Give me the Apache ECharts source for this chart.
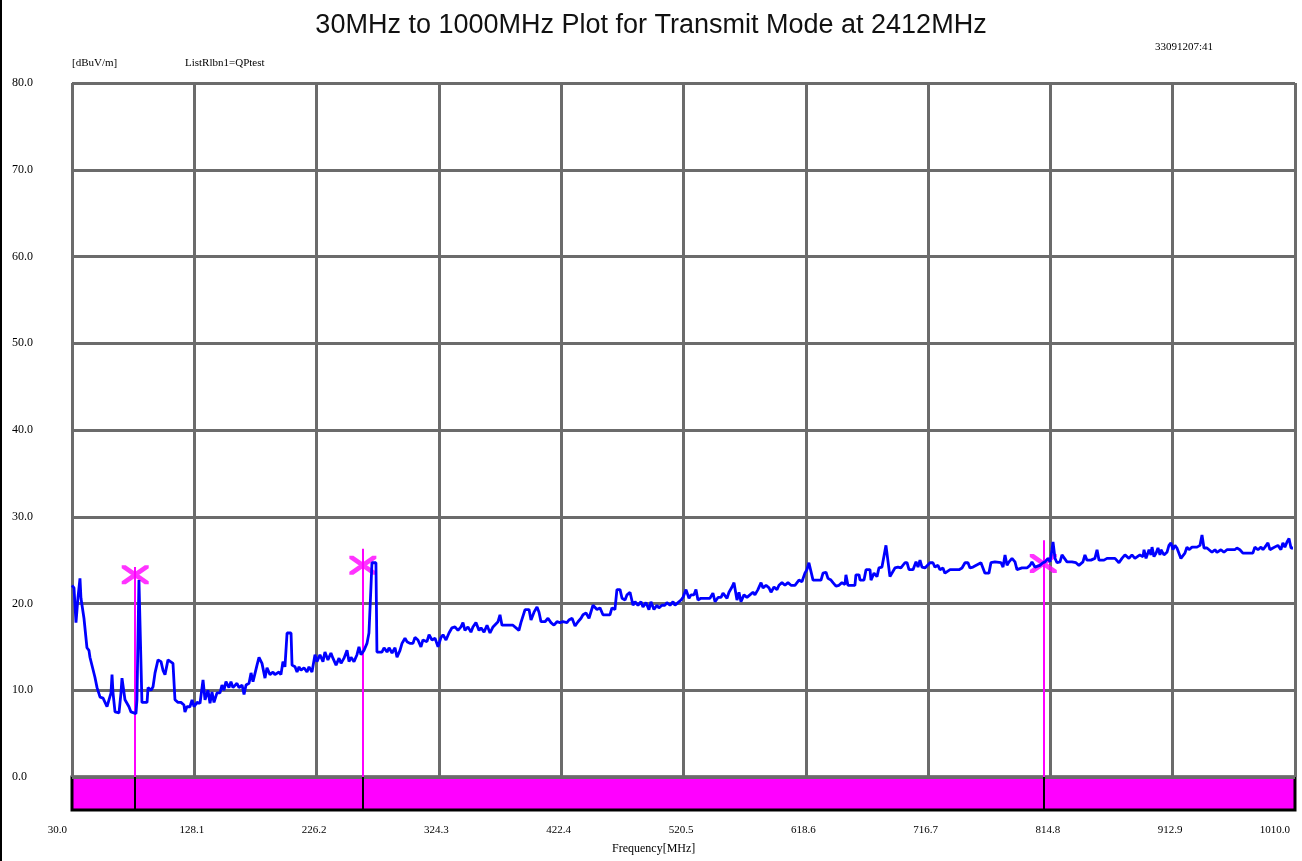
<!DOCTYPE html>
<html>
<head>
<meta charset="utf-8">
<title>30MHz to 1000MHz Plot for Transmit Mode at 2412MHz</title>
<script src="https://cdn.jsdelivr.net/npm/echarts@6/dist/echarts.min.js"></script>
<style>
  html, body { margin: 0; padding: 0; background: #ffffff; }
  #chart { width: 1302px; height: 861px; }
</style>
</head>
<body>
<div id="chart"></div>
<script>
// Scan trace: frequency (MHz) and level (dBuV/m)
const freqMHz = [
  30.0, 31.6, 33.2, 34.8, 36.4, 37.2, 38.8, 39.6, 40.4, 42.0, 43.6, 44.4, 45.2, 48.4, 50.1, 51.7,
  52.5, 53.3, 54.9, 56.5, 58.1, 59.7, 61.3, 62.1, 62.9, 64.5, 66.1, 67.7, 69.3, 70.1, 70.9, 72.5,
  74.1, 75.7, 77.3, 78.9, 81.3, 82.1, 83.7, 85.3, 86.1, 90.2, 91.0, 93.4, 95.0, 96.6, 99.0, 101.4,
  103.0, 104.6, 107.0, 108.6, 111.0, 112.6, 115.0, 117.4, 119.8, 120.6, 122.2, 124.6, 126.3, 127.9, 130.3, 132.7,
  135.1, 136.7, 139.1, 140.7, 142.3, 143.9, 146.3, 148.7, 150.3, 151.9, 153.5, 155.9, 157.5, 159.1, 162.3, 164.0,
  166.4, 168.0, 169.6, 172.0, 173.6, 175.2, 176.8, 178.4, 180.0, 182.4, 184.8, 186.4, 188.8, 191.2, 192.8, 196.0,
  197.6, 199.2, 200.8, 202.5, 205.7, 206.5, 208.9, 210.5, 212.1, 213.7, 216.1, 218.5, 220.1, 222.5, 224.9, 226.5,
  228.9, 231.3, 232.9, 235.3, 237.7, 239.3, 241.8, 244.2, 245.8, 248.2, 250.6, 252.2, 253.8, 256.2, 258.6, 260.2,
  261.8, 264.2, 266.6, 268.2, 269.8, 270.6, 273.8, 274.6, 278.6, 280.3, 282.7, 284.3, 286.7, 289.1, 290.7, 293.1,
  294.7, 297.1, 298.7, 301.1, 303.5, 305.1, 307.5, 309.9, 311.5, 314.7, 316.4, 318.8, 321.2, 323.6, 326.0, 327.6,
  330.0, 332.4, 334.8, 337.2, 339.6, 342.0, 343.6, 345.2, 347.6, 350.0, 351.6, 354.0, 356.5, 358.1, 360.5, 362.9,
  365.3, 367.7, 369.3, 371.7, 373.3, 374.9, 378.9, 383.7, 388.5, 390.1, 393.4, 396.6, 398.2, 400.6, 403.0, 404.6,
  406.2, 409.4, 411.8, 414.2, 416.6, 419.0, 421.4, 423.8, 427.0, 428.6, 431.1, 433.5, 435.9, 438.3, 439.9, 442.3,
  444.7, 446.3, 447.9, 451.1, 453.5, 455.9, 461.5, 463.1, 465.5, 467.1, 469.6, 471.2, 473.6, 475.2, 477.6, 480.0,
  481.6, 484.0, 486.4, 488.0, 490.4, 492.8, 494.4, 496.8, 499.2, 500.8, 503.2, 505.6, 507.2, 509.7, 512.1, 513.7,
  516.1, 518.5, 520.1, 522.5, 524.9, 526.5, 528.9, 530.5, 532.1, 534.5, 537.7, 541.7, 544.1, 545.8, 548.2, 550.6,
  552.2, 553.8, 555.4, 557.0, 559.4, 561.0, 563.4, 565.0, 566.6, 569.0, 571.4, 573.8, 576.2, 577.8, 580.2, 582.7,
  584.3, 586.7, 589.1, 590.7, 593.1, 595.5, 597.1, 599.5, 601.9, 604.3, 606.7, 609.9, 611.5, 613.1, 615.5, 617.9,
  619.5, 621.1, 622.7, 624.4, 626.0, 630.8, 632.4, 634.8, 636.4, 638.8, 640.4, 642.8, 645.2, 647.6, 650.0, 650.8,
  652.4, 658.0, 658.8, 661.3, 662.1, 665.3, 666.9, 670.1, 670.9, 673.3, 675.7, 677.3, 679.7, 681.3, 682.9, 684.5,
  686.1, 687.7, 690.1, 692.5, 694.9, 698.1, 699.8, 701.4, 704.6, 707.0, 708.6, 710.2, 711.8, 714.2, 715.8, 718.2,
  720.6, 722.2, 724.6, 726.2, 728.6, 730.2, 731.8, 734.3, 741.5, 743.9, 746.3, 748.7, 750.3, 752.7, 754.3, 759.1,
  760.7, 762.3, 765.5, 767.1, 770.3, 775.2, 776.8, 778.4, 780.0, 781.6, 784.0, 786.4, 788.0, 789.6, 792.0, 796.0,
  798.4, 800.0, 802.4, 804.0, 806.4, 808.8, 810.5, 812.9, 814.5, 816.1, 816.9, 818.5, 820.1, 822.5, 824.1, 825.7,
  828.1, 829.7, 832.1, 835.3, 837.7, 839.3, 840.9, 842.5, 844.1, 847.3, 850.5, 852.2, 853.8, 855.4, 857.8, 860.2,
  866.6, 868.2, 869.8, 872.2, 874.6, 876.2, 877.8, 880.2, 882.6, 884.2, 886.6, 889.1, 889.9, 891.5, 893.9, 895.5,
  896.3, 897.9, 899.5, 901.1, 902.7, 903.5, 905.9, 908.3, 909.9, 911.5, 913.1, 914.7, 916.3, 917.9, 919.5, 921.1,
  922.7, 924.3, 926.0, 928.4, 930.0, 932.4, 934.8, 936.4, 938.0, 940.4, 942.0, 944.4, 946.8, 948.4, 951.6, 954.0,
  956.4, 962.7, 964.4, 966.8, 969.2, 977.2, 978.8, 981.3, 983.7, 985.3, 986.9, 989.3, 990.9, 993.3, 994.9, 997.3,
  999.7, 1001.3, 1002.9, 1004.6, 1006.2, 1007.8, 1009.4
];
const levelDbuv = [
  22.1, 21.8, 17.8, 20.7, 22.9, 20.6, 20.4, 18.3, 18.1, 14.9, 14.6, 13.8, 13.8, 11.5, 10.3, 10.3,
  9.2, 9.1, 9.1, 8.6, 8.1, 8.1, 9.7, 11.8, 9.7, 7.5, 7.5, 7.4, 9.7, 11.4, 11.4, 8.9,
  8.9, 8.1, 7.5, 7.3, 7.3, 8.9, 22.7, 22.7, 8.6, 8.6, 10.3, 10.0, 10.4, 12.0, 13.5, 13.3,
  12.3, 11.8, 13.5, 13.7, 13.1, 8.9, 8.6, 8.6, 8.3, 7.5, 8.1, 8.1, 8.9, 8.1, 8.6, 8.5,
  11.2, 8.9, 10.0, 8.5, 9.8, 8.6, 9.7, 9.7, 10.6, 10.0, 11.0, 10.3, 11.0, 10.3, 10.8, 10.3,
  10.6, 9.5, 10.6, 10.8, 12.0, 11.0, 11.2, 12.9, 13.8, 13.1, 11.4, 12.6, 11.8, 12.1, 11.8, 12.1,
  11.8, 13.3, 12.7, 16.6, 16.6, 12.9, 12.7, 12.1, 12.7, 12.3, 12.6, 12.1, 12.7, 12.1, 14.1, 13.3,
  14.1, 13.3, 14.4, 13.5, 14.3, 13.7, 12.9, 13.7, 13.1, 13.7, 14.6, 13.3, 13.8, 13.3, 14.1, 15.0,
  14.1, 14.6, 15.4, 16.6, 21.9, 24.7, 24.7, 14.4, 14.4, 14.9, 14.4, 14.9, 14.3, 14.9, 13.8, 14.6,
  15.4, 16.0, 15.6, 15.4, 15.4, 16.1, 15.8, 15.0, 15.8, 15.6, 16.4, 15.8, 16.0, 15.0, 16.1, 16.4,
  15.8, 16.6, 17.2, 17.3, 16.9, 17.3, 17.8, 16.9, 17.3, 16.7, 17.3, 17.8, 16.9, 17.2, 16.7, 17.5,
  16.6, 17.3, 17.3, 17.9, 18.7, 17.5, 17.5, 17.5, 16.9, 17.8, 19.3, 19.3, 18.1, 19.0, 19.6, 19.0,
  17.9, 17.9, 18.3, 17.8, 17.5, 17.9, 17.8, 17.9, 17.8, 18.1, 18.3, 17.4, 17.9, 18.3, 18.7, 18.9,
  18.3, 18.4, 19.8, 19.3, 19.5, 18.7, 18.7, 19.5, 19.3, 21.6, 21.6, 20.6, 20.4, 21.0, 21.3, 19.8,
  20.2, 19.8, 20.2, 19.6, 20.1, 19.3, 20.2, 19.3, 19.8, 19.5, 19.8, 19.8, 20.1, 19.8, 20.2, 19.8,
  20.1, 20.4, 20.7, 21.6, 20.6, 21.0, 21.0, 21.6, 20.4, 20.6, 20.6, 20.6, 21.2, 20.2, 20.7, 20.7,
  21.2, 21.3, 20.6, 21.3, 21.9, 22.4, 20.4, 21.3, 20.2, 21.0, 20.7, 21.0, 21.3, 21.0, 21.6, 22.4,
  21.8, 22.1, 21.8, 21.3, 21.9, 21.6, 22.1, 22.4, 22.1, 22.4, 22.1, 22.1, 22.1, 22.7, 22.5, 23.5,
  23.9, 24.7, 24.7, 22.7, 22.7, 22.7, 23.5, 23.6, 22.9, 22.7, 22.4, 22.0, 22.1, 22.4, 22.2, 23.3,
  22.1, 22.1, 23.3, 23.3, 22.7, 22.7, 23.9, 23.9, 22.7, 23.5, 23.1, 24.1, 24.2, 24.4, 26.7, 26.7,
  23.1, 23.3, 24.1, 24.2, 24.1, 24.7, 24.7, 23.9, 23.9, 24.8, 24.2, 25.0, 24.2, 24.1, 24.2, 24.7,
  24.7, 24.2, 24.4, 23.9, 24.1, 23.5, 23.3, 23.9, 23.9, 24.1, 24.7, 24.7, 24.1, 24.2, 24.4, 24.7,
  24.1, 23.5, 23.5, 24.7, 24.8, 24.7, 24.2, 25.6, 24.4, 24.8, 25.2, 24.8, 23.9, 23.9, 24.1, 24.1,
  24.4, 24.8, 24.2, 24.4, 24.4, 24.7, 24.8, 25.2, 24.8, 26.2, 27.1, 25.2, 24.7, 24.8, 25.6, 25.4,
  24.8, 24.7, 24.8, 24.7, 24.4, 24.2, 24.8, 25.6, 25.0, 25.0, 25.2, 26.2, 25.0, 24.8, 25.0, 25.2,
  25.2, 25.0, 24.7, 25.2, 25.6, 25.4, 25.2, 25.6, 25.2, 25.0, 25.6, 25.4, 26.2, 25.2, 26.2, 25.6,
  26.5, 25.4, 25.8, 26.4, 25.6, 26.2, 25.6, 25.9, 26.7, 27.0, 26.2, 26.7, 26.4, 25.8, 25.2, 25.0,
  25.8, 26.5, 26.2, 26.5, 26.4, 26.5, 26.7, 27.9, 26.4, 26.4, 26.2, 25.9, 26.2, 25.9, 26.2, 25.9,
  26.2, 26.2, 26.4, 26.2, 25.8, 25.8, 26.5, 26.2, 26.5, 26.2, 26.5, 27.0, 26.2, 26.4, 26.5, 26.7,
  26.2, 27.0, 26.5, 27.1, 27.5, 26.4, 26.4
];

// Peak markers: frequency, marker level, top of the marker stem
const markerFreq = [80.7, 263.3, 809.1];
const markerLevel = [23.3, 24.4, 24.6];
const markerStemTop = [24.2, 26.3, 27.3];

// Axis tick labels
const yTickValues = [0, 10, 20, 30, 40, 50, 60, 70, 80];
const xTickLabels = ['30.0', '128.1', '226.2', '324.3', '422.4', '520.5', '618.6', '716.7', '814.8', '912.9', '1010.0'];

const FREQ_MIN = 30, FREQ_MAX = 1011;

const traceData = freqMHz.map((f, i) => [f, levelDbuv[i]]);
const markerData = markerFreq.map((f, i) => [f, markerLevel[i]]);
const stemLines = markerFreq.map((f, i) => [
  { coord: [f, markerStemTop[i]] },
  { coord: [f, 0] }
]);

const SERIF = '"Liberation Serif", "DejaVu Serif", serif';
const GRID_GRAY = '#6b6b6b';
const MAGENTA = '#ff00ff';
// Cross-shaped marker glyph built from two slanted bars
const crossPath = 'path://M0,0 L4,0 L27,16 L27,19 L23,19 L0,3 Z M23,0 L27,0 L27,3 L4,19 L0,19 L0,16 Z';

const chart = echarts.init(document.getElementById('chart'), null, { renderer: 'canvas' });

chart.setOption({
  backgroundColor: '#ffffff',
  animation: false,
  title: {
    text: '30MHz to 1000MHz Plot for Transmit Mode at 2412MHz',
    left: 'center',
    top: 7,
    textStyle: { fontFamily: '"Liberation Sans", Arial, sans-serif', fontSize: 27, fontWeight: 'normal', color: '#111' }
  },
  grid: [
    { left: 72, right: 7, top: 83, height: 694, show: false, containLabel: false, outerBoundsMode: 'none' },
    {
      left: 72, right: 7, top: 777, height: 33, show: true, containLabel: false, outerBoundsMode: 'none',
      backgroundColor: MAGENTA, borderColor: '#000', borderWidth: 3
    }
  ],
  xAxis: [
    // data axis (frequency) for the main plot
    { type: 'value', gridIndex: 0, min: FREQ_MIN, max: FREQ_MAX, show: false },
    // division axis for the vertical grid lines
    {
      type: 'value', gridIndex: 0, min: 0, max: 10, interval: 1,
      axisLine: { show: false }, axisTick: { show: false }, axisLabel: { show: false },
      splitLine: { show: true, lineStyle: { color: GRID_GRAY, width: 3 } }
    },
    // division axis under the limit band carrying the tick labels
    {
      type: 'value', gridIndex: 1, min: 0, max: 10, interval: 1,
      axisLine: { show: false }, axisTick: { show: false }, splitLine: { show: false },
      axisLabel: {
        margin: 15, fontFamily: SERIF, fontSize: 11, color: '#000',
        padding: [0, 5, 0, 0],
        alignMinLabel: 'right', alignMaxLabel: 'right',
        overflow: 'none', hideOverlap: false,
        formatter: (v) => xTickLabels[Math.round(v)]
      }
    },
    // frequency axis for the band markers
    { type: 'value', gridIndex: 1, min: FREQ_MIN, max: FREQ_MAX, show: false }
  ],
  yAxis: [
    {
      type: 'value', gridIndex: 0, min: 0, max: 80, interval: 10,
      axisLine: { show: false }, axisTick: { show: false },
      splitLine: { show: true, lineStyle: { color: GRID_GRAY, width: 3 } },
      axisLabel: {
        margin: 60, align: 'left', fontFamily: SERIF, fontSize: 12, color: '#000',
        formatter: (v) => yTickValues.includes(v) ? v.toFixed(1) : ''
      }
    },
    { type: 'value', gridIndex: 1, min: 0, max: 1, show: false }
  ],
  series: [
    {
      name: 'markers',
      type: 'scatter',
      xAxisIndex: 0, yAxisIndex: 0,
      data: markerData,
      symbol: crossPath,
      symbolSize: [27, 19],
      symbolKeepAspect: false,
      itemStyle: { color: MAGENTA },
      z: 3,
      markLine: {
        silent: true,
        symbol: ['none', 'none'],
        label: { show: false },
        lineStyle: { color: MAGENTA, width: 2, type: 'solid' },
        data: stemLines
      }
    },
    {
      name: 'trace',
      type: 'line',
      xAxisIndex: 0, yAxisIndex: 0,
      data: traceData,
      showSymbol: false,
      symbol: 'none',
      lineStyle: { color: '#0000ff', width: 2.8 },
      z: 5
    },
    {
      name: 'band marks',
      type: 'line',
      xAxisIndex: 3, yAxisIndex: 1,
      data: [],
      markLine: {
        silent: true,
        symbol: ['none', 'none'],
        label: { show: false },
        lineStyle: { color: '#000', width: 2, type: 'solid' },
        data: markerFreq.map((f) => ({ xAxis: f }))
      }
    }
  ],
  graphic: [
    { type: 'rect', left: 0, top: 0, shape: { width: 2, height: 861 }, style: { fill: '#000' } },
    { type: 'text', left: 72, top: 58, style: { text: '[dBuV/m]', font: '11px ' + SERIF, fill: '#000' } },
    { type: 'text', left: 185, top: 58, style: { text: 'ListRlbn1=QPtest', font: '11px ' + SERIF, fill: '#000' } },
    { type: 'text', left: 1155, top: 42, style: { text: '33091207:41', font: '11px ' + SERIF, fill: '#000' } },
    { type: 'text', left: 612, top: 843, style: { text: 'Frequency[MHz]', font: '12px ' + SERIF, fill: '#000' } }
  ]
});
</script>
</body>
</html>
